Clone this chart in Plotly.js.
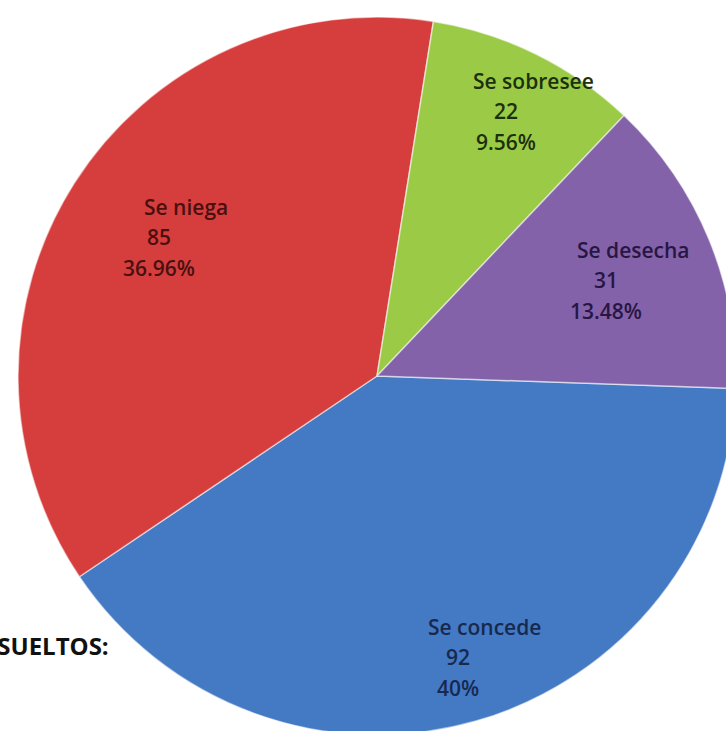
<!DOCTYPE html>
<html>
<head>
<meta charset="utf-8">
<script src="https://cdn.plot.ly/plotly-3.0.1.min.js"></script>
<style>
html, body { margin: 0; padding: 0; overflow: hidden; background: #ffffff; width: 726px; height: 731px; }
#chart { position: absolute; left: 0; top: 0; width: 800px; height: 800px; }
</style>
</head>
<body>
<div id="chart"></div>
<script>
const categories = ['Se concede', 'Se niega', 'Se sobresee', 'Se desecha'];
const counts = [92, 85, 22, 31];
const percentLabels = ['40%', '36.96%', '9.56%', '13.48%'];
const sliceColors = ['#4479c4', '#d63e3e', '#9bca47', '#8462aa'];
const textColors = ['#17294f', '#4a1010', '#1c300c', '#271644'];
const sideTitle = 'RESUELTOS:';

// label placement (page pixels of the value line centre), layout only
const W = 800, H = 800;
const labelAnchors = [[458, 657], [159, 237], [506, 111], [606, 280]];

const trace = {
  type: 'pie',
  labels: categories,
  values: counts,
  textinfo: 'none',
  sort: false,
  direction: 'clockwise',
  rotation: 92,
  marker: { colors: sliceColors, line: { color: 'rgba(255,255,255,0.55)', width: 1.5 } },
  domain: { x: [0.0225, 0.92], y: [0.08125, 0.97875] },
  hoverinfo: 'none',
  showlegend: false
};

const annotations = [];
function addText(txt, px, py, color, size) {
  annotations.push({
    text: txt,
    xref: 'paper', yref: 'paper',
    x: px / W, y: (H - py) / H,
    xanchor: 'center', yanchor: 'middle',
    showarrow: false,
    font: { family: 'Open Sans, sans-serif', size: size, color: color, weight: 600 }
  });
}
categories.forEach((c, i) => {
  const [ax, ay] = labelAnchors[i];
  addText(c, ax + 27, ay - 30, textColors[i], 21);
  addText(String(counts[i]), ax, ay, textColors[i], 21);
  addText(percentLabels[i], ax, ay + 31, textColors[i], 21);
});
annotations.push({
  text: '<b>' + sideTitle + '</b>',
  xref: 'paper', yref: 'paper',
  x: 111 / W, y: (H - 645) / H,
  xanchor: 'right', yanchor: 'middle',
  showarrow: false,
  font: { family: 'Open Sans, sans-serif', size: 24, color: '#111111' }
});

const layout = {
  width: W,
  height: H,
  margin: { l: 0, r: 0, t: 0, b: 0 },
  paper_bgcolor: '#ffffff',
  showlegend: false,
  annotations: annotations
};

Plotly.newPlot('chart', [trace], layout, { staticPlot: true, displayModeBar: false });
</script>
</body>
</html>
